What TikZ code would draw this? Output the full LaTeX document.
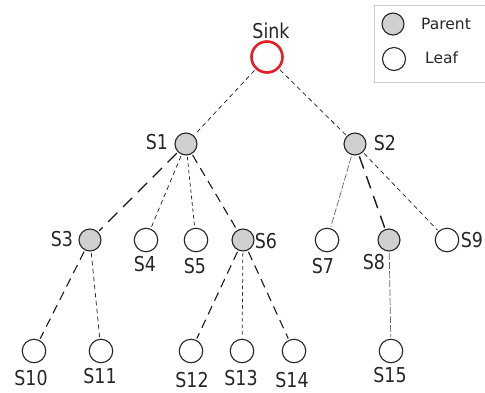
\documentclass[tikz,border=0pt]{standalone}
\usepackage{fontspec}
\newfontfamily\labfont[FakeStretch=0.85]{DejaVu Sans}
\newfontfamily\legfont{DejaVu Sans}
\definecolor{pfill}{RGB}{206,208,210}
\definecolor{sinkred}{RGB}{228,30,36}
\definecolor{boxgray}{RGB}{205,205,205}
\tikzset{
  leaf/.style={circle,draw=black!85,line width=1.1pt,minimum size=23.5pt,inner sep=0pt,fill=white},
  parent/.style={circle,draw=black!85,line width=1.1pt,minimum size=22pt,inner sep=0pt,fill=pfill},
  sink/.style={circle,draw=sinkred,line width=2.6pt,minimum size=31pt,inner sep=0pt},
  lab/.style={inner sep=0pt,font=\labfont\fontsize{20.5}{20}\selectfont,text=black!85},
  leg/.style={inner sep=0pt,font=\legfont\fontsize{15.5}{16}\selectfont,text=black!85},
  edge/.style={shorten <=1.5pt,shorten >=1.5pt},
  thin/.style={edge,line width=0.75pt,dash pattern=on 4.5pt off 3.5pt,black!85},
  thinfine/.style={edge,line width=0.75pt,dash pattern=on 3.5pt off 3pt,black!85},
  thick/.style={edge,line width=1.4pt,dash pattern=on 13pt off 8pt,black!90},
  medium/.style={edge,line width=1.1pt,dash pattern=on 9pt off 6pt,black!90},
  grayline/.style={edge,line width=0.7pt,dash pattern=on 7pt off 2pt,black!60},
}
\begin{document}
\begin{tikzpicture}[x=1pt,y=-1pt]
\useasboundingbox (0,0) rectangle (485,392);
% legend
\draw[boxgray,line width=0.8pt] (486,5) -- (374.5,5) -- (374.5,82) -- (486,82);
\node[parent,minimum size=22pt] (lp) at (393,24) {};
\node[leaf,minimum size=23pt] (ll) at (394,59) {};
\node[leg,anchor=west] (lpt) at (421,24) {Parent};
\node[leg,anchor=west] (llt) at (425,58) {Leaf};
% nodes
\node[sink] (sink) at (267,57) {};
\node[parent] (s1) at (186,144) {};
\node[parent] (s2) at (355,144) {};
\node[parent] (s3) at (90,240) {};
\node[leaf] (s4) at (146,240) {};
\node[leaf] (s5) at (196,240) {};
\node[parent] (s6) at (243,240) {};
\node[leaf] (s7) at (327,240) {};
\node[parent] (s8) at (389,240) {};
\node[leaf] (s9) at (447,240) {};
\node[leaf] (s10) at (34,351) {};
\node[leaf] (s11) at (101,351) {};
\node[leaf] (s12) at (191,351) {};
\node[leaf] (s13) at (242,351) {};
\node[leaf] (s14) at (294,351) {};
\node[leaf] (s15) at (391,351) {};
% labels
\node[lab] (tsink) at (271,31) {Sink};
\node[lab] (t1) at (157,142) {S1};
\node[lab] (t2) at (385,143) {S2};
\node[lab] (t3) at (62,239) {S3};
\node[lab] (t4) at (145,264) {S4};
\node[lab] (t5) at (195,266) {S5};
\node[lab] (t6) at (266,241) {S6};
\node[lab] (t7) at (323,266) {S7};
\node[lab] (t8) at (374,262) {S8};
\node[lab] (t9) at (472,240) {S9};
\node[lab] (t10) at (31,378) {S10};
\node[lab] (t11) at (100,376) {S11};
\node[lab] (t12) at (192,380) {S12};
\node[lab] (t13) at (241,378) {S13};
\node[lab] (t14) at (292,380) {S14};
\node[lab] (t15) at (390,375) {S15};
% edges
\draw[thin] (sink) -- (s1);
\draw[thin] (sink) -- (s2);
\draw[thick] (s1) -- (s3);
\draw[thin] (s1) -- (s4);
\draw[thinfine] (s1) -- (s5);
\draw[medium] (s1) -- (s6);
\draw[grayline] (s2) -- (s7);
\draw[thick] (s2) -- (s8);
\draw[thin] (s2) -- (s9);
\draw[medium] (s3) -- (s10);
\draw[thin] (s3) -- (s11);
\draw[medium] (s6) -- (s12);
\draw[thinfine] (s6) -- (s13);
\draw[medium] (s6) -- (s14);
\draw[grayline] (s8) -- (s15);
\end{tikzpicture}
\end{document}
